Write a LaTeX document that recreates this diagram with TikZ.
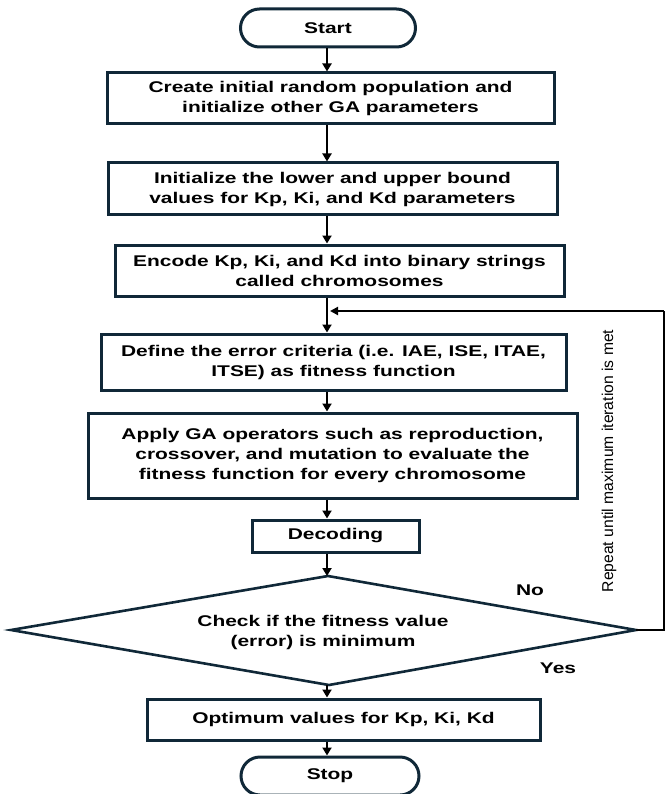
\documentclass[tikz,border=0pt]{standalone}
\usepackage{fontspec}
\setmainfont{Liberation Sans}[FakeStretch=1.35]
\newfontfamily\plainsans{Liberation Sans}
\usetikzlibrary{arrows.meta}
\definecolor{edge}{RGB}{16,40,56}
\begin{document}
\begin{tikzpicture}[x=1pt,y=-1pt,
  box/.style={draw=edge,line width=3pt,inner sep=0pt,align=center,
    font=\bfseries\fontsize{15.5}{20}\selectfont},
  term/.style={box,rounded corners=19pt},
  decision/.style={draw=edge,line width=2.6pt,line join=miter},
  arr/.style={line width=2.8pt,-{Triangle[length=8pt,width=9pt]}},
  loopline/.style={line width=2pt},
  lab/.style={font=\bfseries\fontsize{15.5}{20}\selectfont}]
\fill[white] (0,0) rectangle (665,794);
\useasboundingbox (0,0) rectangle (665,794);
\begin{scope}
\clip (0,0) rectangle (665,794);
\coordinate (main) at (327,0);
\node[term,minimum width=175pt,minimum height=38pt] (start) at (328,28) {Start};
\node[box,minimum width=447pt,minimum height=51pt] (b1) at (330.5,98.5)
  {Create initial random population and\\initialize other GA parameters};
\node[box,minimum width=449pt,minimum height=52pt] (b2) at (332.5,189)
  {Initialize the lower and upper bound\\values for Kp, Ki, and Kd parameters};
\node[box,minimum width=449pt,minimum height=51pt] (b3) at (339.5,270.5)
  {Encode Kp, Ki, and Kd into binary strings\\called chromosomes};
\node[box,minimum width=465pt,minimum height=56pt] (b4) at (333.5,362)
  {Define the error criteria (i.e. IAE, ISE, ITAE,\\ITSE) as fitness function};
\node[box,minimum width=489pt,minimum height=85pt] (b5) at (332.5,455.5)
  {Apply GA operators such as reproduction,\\crossover, and mutation to evaluate the\\fitness function for every chromosome};
\node[box,minimum width=167pt,minimum height=32pt] (dec) at (335.5,536) {Decoding};

\coordinate (diaN) at (328,576);
\coordinate (diaE) at (636,630);
\coordinate (diaS) at (329,685);
\coordinate (diaW) at (11,630);
\draw[decision] (diaN) -- (diaE) -- (diaS) -- (diaW) -- cycle;
\node[align=center,font=\bfseries\fontsize{15.5}{20}\selectfont] (dia) at (323,632)
  {Check if the fitness value\\(error) is minimum};

\node[box,minimum width=393pt,minimum height=41pt] (opt) at (343.5,719.5)
  {Optimum values for Kp, Ki, Kd};
\node[term,minimum width=178pt,minimum height=38pt] (stop) at (330,776) {Stop};

\node[lab] (no) at (530,590) {No};
\node[lab] (yes) at (558,668) {Yes};
\node[rotate=90,font=\plainsans\fontsize{15.7}{18}\selectfont] (rep) at (609,461)
  {Repeat until maximum iteration is met};

\draw[arr] (start.south -| main) -- (b1.north -| main);
\draw[arr] (b1.south -| main) -- (b2.north -| main);
\draw[arr] (b2.south -| main) -- (b3.north -| main);
\draw[arr] (b3.south -| main) -- (b4.north -| main);
\draw[arr] (b4.south -| main) -- (b5.north -| main);
\draw[arr] (b5.south -| main) -- (dec.north -| main);
\draw[arr] (dec.south -| main) -- (diaN -| main);
\draw[arr] (diaS -| main) -- (opt.north -| main);
\draw[arr] (opt.south -| main) -- (stop.north -| main);

\coordinate (fbR) at (664,311);
\coordinate (fbT) at (330,311);
\draw[loopline] (diaE) -- (diaE -| fbR) -- (fbR);
\draw[loopline,-{Triangle[length=8pt,width=8pt]}] (fbR) -- (fbT);
\end{scope}
\end{tikzpicture}
\end{document}
